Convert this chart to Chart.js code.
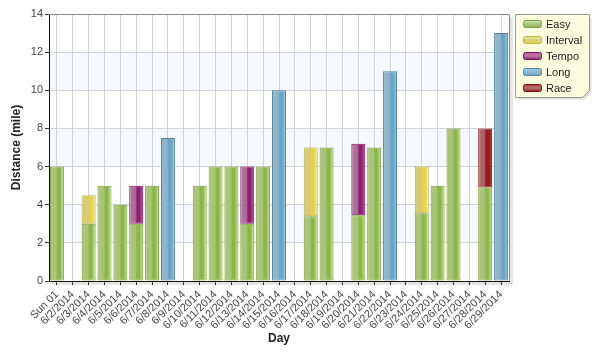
<!DOCTYPE html>
<html>
<head>
<meta charset="utf-8">
<script src="https://cdn.jsdelivr.net/npm/chart.js@4/dist/chart.umd.min.js"></script>
<style>
html,body{margin:0;padding:0;background:#fff;}
#wrap{width:601px;height:357px;position:relative;}
</style>
</head>
<body>
<div id="wrap"><canvas id="c" width="601" height="357"></canvas></div>
<script>
const categories = ["Sun 01","6/2/2014","6/3/2014","6/4/2014","6/5/2014","6/6/2014","6/7/2014","6/8/2014","6/9/2014","6/10/2014","6/11/2014","6/12/2014","6/13/2014","6/14/2014","6/15/2014","6/16/2014","6/17/2014","6/18/2014","6/19/2014","6/20/2014","6/21/2014","6/22/2014","6/23/2014","6/24/2014","6/25/2014","6/26/2014","6/27/2014","6/28/2014","6/29/2014"];
const easy     = [6,null,3,5,4,3,5,null,null,5,6,6,3,6,null,null,3.4,7,null,3.45,7,null,null,3.55,5,8,null,4.9,null];
const interval = [null,null,1.5,null,null,null,null,null,null,null,null,null,null,null,null,null,3.6,null,null,null,null,null,null,2.45,null,null,null,null,null];
const tempo    = [null,null,null,null,null,2,null,null,null,null,null,null,3,null,null,null,null,null,null,3.75,null,null,null,null,null,null,null,null,null];
const longRun  = [null,null,null,null,null,null,null,7.5,null,null,null,null,null,null,10,null,null,null,null,null,null,11,null,null,null,null,null,null,13];
const race     = [null,null,null,null,null,null,null,null,null,null,null,null,null,null,null,null,null,null,null,null,null,null,null,null,null,null,null,3.1,null];
const seriesNames = ["Easy","Interval","Tempo","Long","Race"];
const yTicks = [0,2,4,6,8,10,12,14];

const styles = {
  Easy:     {border:'#78a03a', stops:['#acc67f','#a7c470','#8bb649','#d2e9a3']},
  Interval: {border:'#c0b140', stops:['#d7ce7b','#d6cb6c','#e3d24a','#f3eba3']},
  Tempo:    {border:'#881060', stops:['#b27ea4','#a96596','#8f1f6d','#c458a0']},
  Long:     {border:'#5685a3', stops:['#95b7c9','#8db3c9','#6aa3c6','#96cde8']},
  Race:     {border:'#8b0a0a', stops:['#b27676','#aa5c5c','#981818','#bb3434']}
};
const BAR_PCT = 0.88;

function barFill(name){
  const st = styles[name];
  return function(ctx){
    const chart = ctx.chart;
    const xs = chart.scales && chart.scales.x;
    if (ctx.type !== 'data' || !xs || !chart.chartArea) return st.stops[1];
    const cx = xs.getPixelForValue(ctx.dataIndex);
    const w = (xs.width / categories.length) * BAR_PCT;
    const g = chart.ctx.createLinearGradient(cx - w/2, 0, cx + w/2, 0);
    g.addColorStop(0, st.stops[0]);
    g.addColorStop(0.45, st.stops[1]);
    g.addColorStop(0.55, st.stops[2]);
    g.addColorStop(0.72, st.stops[2]);
    g.addColorStop(1, st.stops[3]);
    return g;
  };
}

const dataArrays = {Easy:easy, Interval:interval, Tempo:tempo, Long:longRun, Race:race};
const datasets = seriesNames.map(n => ({
  label:n,
  data:dataArrays[n],
  backgroundColor:barFill(n),
  borderColor:styles[n].border,
  borderWidth:1,
  borderSkipped:false,
  stack:'s',
  barPercentage:BAR_PCT,
  categoryPercentage:1
}));

const bgPlugin = {
  id:'bg',
  beforeDraw(chart){
    const {ctx, chartArea:a, scales:{y}} = chart;
    ctx.save();
    ctx.fillStyle='rgba(0,0,0,0.10)';
    ctx.fillRect(a.right+1, a.top+3, 3, a.bottom-a.top);
    ctx.fillRect(a.left+3, a.bottom+1, a.right-a.left, 3);
    ctx.fillStyle='#fff';
    ctx.fillRect(a.left,a.top,a.right-a.left,a.bottom-a.top);
    ctx.fillStyle='#f5f8fe';
    [[2,4],[6,8],[10,12]].forEach(([lo,hi])=>{
      const y1=y.getPixelForValue(hi), y2=y.getPixelForValue(lo);
      ctx.fillRect(a.left,y1,a.right-a.left,y2-y1);
    });
    ctx.restore();
  },
  afterDatasetsDraw(chart){
    const {ctx, chartArea:a} = chart;
    ctx.save();
    ctx.strokeStyle='#8a8a8a';
    ctx.lineWidth=1;
    ctx.beginPath();
    ctx.moveTo(a.left, a.top+0.5); ctx.lineTo(a.right+0.5, a.top+0.5); ctx.lineTo(a.right+0.5, a.bottom);
    ctx.stroke();
    ctx.restore();
  }
};

const legendPlugin = {
  id:'customLegend',
  afterDraw(chart){
    const ctx = chart.ctx;
    const x0=515.5, y0=14.5, w=74, h=83, c=7;
    ctx.save();
    ctx.fillStyle='rgba(0,0,0,0.12)';
    ctx.beginPath();
    ctx.moveTo(x0+3,y0+3); ctx.lineTo(x0+w+2,y0+3); ctx.lineTo(x0+w+2,y0+h-c+2); ctx.lineTo(x0+w-c+2,y0+h+2); ctx.lineTo(x0+3,y0+h+2); ctx.closePath();
    ctx.fill();
    ctx.beginPath();
    ctx.moveTo(x0,y0); ctx.lineTo(x0+w,y0); ctx.lineTo(x0+w,y0+h-c); ctx.lineTo(x0+w-c,y0+h); ctx.lineTo(x0,y0+h); ctx.closePath();
    ctx.fillStyle='#fffde0';
    ctx.fill();
    ctx.strokeStyle='#9a9a9a';
    ctx.lineWidth=1;
    ctx.stroke();
    ctx.font='11px "Liberation Sans", Arial, sans-serif';
    ctx.textBaseline='middle';
    ctx.textAlign='left';
    seriesNames.forEach((n,i)=>{
      const cy = 24 + i*16;
      const st = styles[n];
      const sx=523.5, sy=cy-3.5, sw=18, sh=7;
      const g = ctx.createLinearGradient(0,sy,0,sy+sh);
      g.addColorStop(0, st.stops[3]);
      g.addColorStop(0.5, st.stops[0]);
      g.addColorStop(1, st.stops[2]);
      ctx.beginPath();
      if (ctx.roundRect) ctx.roundRect(sx,sy,sw,sh,2); else ctx.rect(sx,sy,sw,sh);
      ctx.fillStyle=g; ctx.fill();
      ctx.strokeStyle=st.border; ctx.stroke();
      ctx.fillStyle='#222';
      ctx.fillText(n, 546, cy+0.5);
    });
    ctx.restore();
  }
};

new Chart(document.getElementById('c'), {
  type:'bar',
  data:{labels:categories, datasets},
  options:{
    responsive:false,
    animation:false,
    devicePixelRatio:1,
    layout:{padding:{left:0, top:14, right:92, bottom:0}},
    plugins:{legend:{display:false}, tooltip:{enabled:false}},
    scales:{
      x:{
        stacked:true,
        offset:true,
        grid:{offset:false, color:'#d2d2d2', tickColor:'#333', tickLength:4, drawOnChartArea:true},
        border:{color:'#111', width:1},
        ticks:{autoSkip:false, minRotation:45, maxRotation:45, padding:3, color:'#444', font:{family:'"Liberation Sans", Arial, sans-serif', size:11}},
        title:{display:true, text:'Day', color:'#222', font:{family:'"Liberation Sans", Arial, sans-serif', size:12, weight:'bold'}, padding:{top:2, bottom:11}},
        afterFit(s){ s.height = 76; }
      },
      y:{
        stacked:true,
        min:0, max:14,
        afterBuildTicks(s){ s.ticks = yTicks.map(v=>({value:v})); },
        grid:{color:'#d2d2d2', tickColor:'#333', tickLength:4},
        border:{color:'#111', width:1},
        ticks:{padding:2, color:'#444', font:{family:'"Liberation Sans", Arial, sans-serif', size:11}},
        title:{display:true, text:'Distance (mile)', color:'#222', font:{family:'"Liberation Sans", Arial, sans-serif', size:12, weight:'bold'}, padding:{top:9, bottom:0}},
        afterFit(s){ s.width = 49; }
      }
    }
  },
  plugins:[bgPlugin, legendPlugin]
});
</script>
</body>
</html>
